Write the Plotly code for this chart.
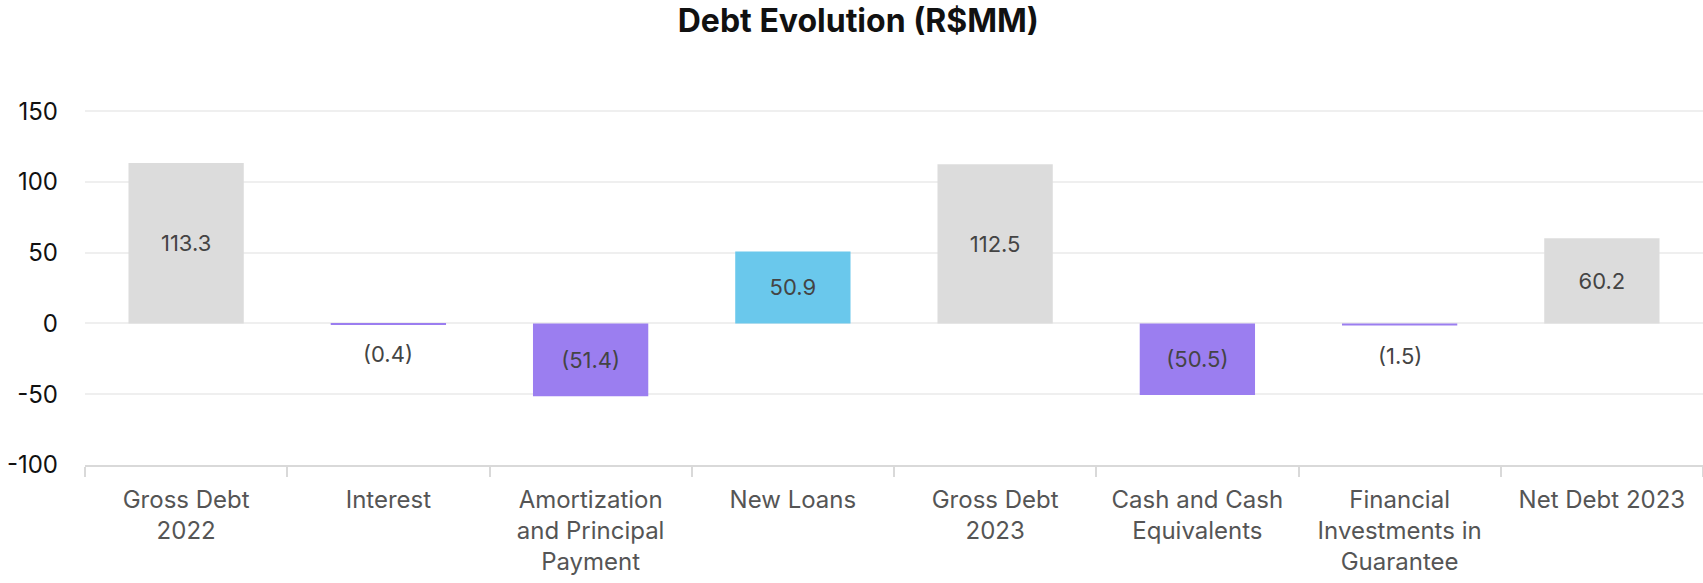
import plotly.graph_objects as go

categories = ["Gross Debt<br>2022", "Interest", "Amortization<br>and Principal<br>Payment",
              "New Loans", "Gross Debt<br>2023", "Cash and Cash<br>Equivalents",
              "Financial<br>Investments in<br>Guarantee", "Net Debt 2023"]
values = [113.3, -0.4, -51.4, 50.9, 112.5, -50.5, -1.5, 60.2]
kinds = ["total", "neg", "neg", "pos", "total", "neg", "neg", "total"]

color_map = {"total": "#DCDCDC", "neg": "#9B7EF0", "pos": "#6AC8EC"}
colors = [color_map[k] for k in kinds]

def fmt(v):
    return f"({abs(v):.1f})" if v < 0 else f"{v:.1f}"

labels = [fmt(v) for v in values]
small = [abs(v) < 10 for v in values]
inside_text = ["" if s else t for s, t in zip(small, labels)]

FONT = "Inter"
TXT = "#444444"

fig = go.Figure()
fig.add_trace(go.Bar(
    x=categories, y=values, marker=dict(color=colors, line=dict(width=0)),
    text=inside_text, textposition="inside", insidetextanchor="middle",
    textangle=0, constraintext="none",
    textfont=dict(family=FONT, size=22, color=TXT),
    hoverinfo="skip",
))

for c, v, t, s in zip(categories, values, labels, small):
    if s:
        fig.add_annotation(x=c, y=v, text=t, showarrow=False, yshift=-30,
                           font=dict(family=FONT, size=22, color=TXT))

fig.update_layout(
    width=1703, height=583,
    margin=dict(l=85, r=0, t=97, b=118, autoexpand=False),
    paper_bgcolor="white", plot_bgcolor="white",
    title=dict(text="<b>Debt Evolution (R$MM)</b>", x=0.504, xanchor="center",
               y=0.964, yanchor="middle",
               font=dict(family=FONT, size=32, color="#111111")),
    bargap=0.43, showlegend=False,
    font=dict(family=FONT, color=TXT),
)
fig.update_yaxes(range=[-100, 160], tickvals=[-100, -50, 0, 50, 100, 150],
                 ticktext=["-100", "-50", "0", "50", "100", "150"],
                 showgrid=True, gridcolor="#EFEFEF", gridwidth=2,
                 zeroline=True, zerolinecolor="#EFEFEF", zerolinewidth=2,
                 tickfont=dict(family=FONT, size=24, color="#111111"),
                 ticklabelstandoff=26, showline=False, automargin=False)
fig.update_xaxes(type="category", tickson="boundaries", ticks="outside",
                 ticklen=10, tickcolor="#D9D9D9", tickwidth=2,
                 showline=True, linecolor="#D9D9D9", linewidth=2,
                 tickfont=dict(family=FONT, size=24, color="#555555"),
                 ticklabelstandoff=12, showgrid=False, automargin=False)

fig.write_html("out.html", config={"displayModeBar": False},
               post_script="document.body.style.margin='0px';document.body.style.overflow='hidden';")
